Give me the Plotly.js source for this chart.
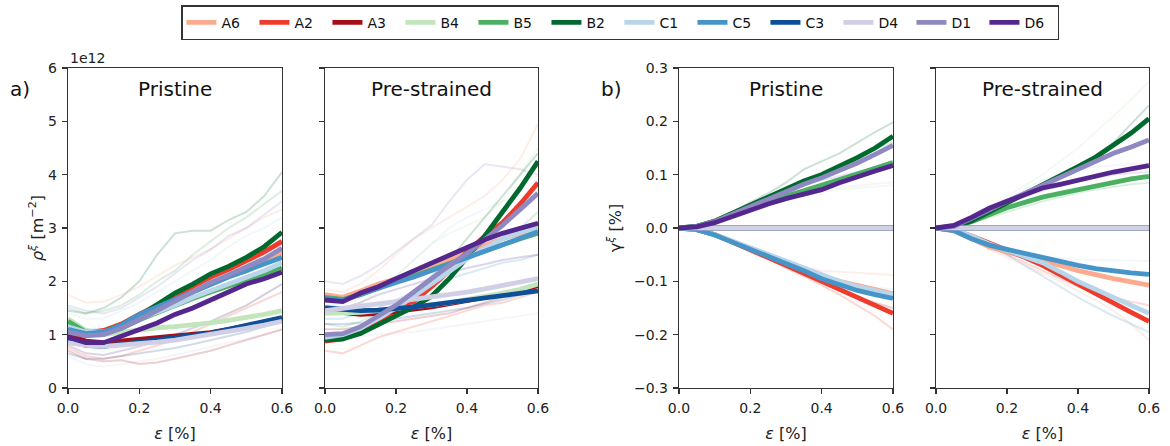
<!DOCTYPE html>
<html><head><meta charset="utf-8">
<script src="https://cdn.plot.ly/plotly-3.0.1.min.js"></script>
<style>html,body{margin:0;padding:0;background:#fff}#chart{width:1170px;height:446px}</style>
</head><body><div id="chart"></div>
<script>
// strain axis [%]
const strain = [0, 0.05, 0.1, 0.15, 0.2, 0.25, 0.3, 0.35, 0.4, 0.45, 0.5, 0.55, 0.6];
const names = ["A6","A2","A3","B4","B5","B2","C1","C5","C3","D4","D1","D6"];
const colors = ["#fcab8f","#ef3b2c","#a50f15","#c2e5bc","#4bb062","#00692d","#b8d5ea","#4695c9","#0d4f98","#d0cfe6","#8e89c1","#54278f"];

// (a) dislocation density rho^xi [1e12 m^-2], Pristine
const rhoPristine = {
 A6:[1.15,1.02,1.05,1.2,1.38,1.5,1.62,1.8,1.95,2.1,2.2,2.35,2.55],
 A2:[1.1,1.03,1.08,1.2,1.38,1.55,1.72,1.9,2.08,2.22,2.38,2.55,2.75],
 A3:[1.0,0.88,0.85,0.88,0.9,0.93,0.97,1.0,1.04,1.1,1.16,1.22,1.3],
 B4:[1.3,1.08,1.0,1.05,1.1,1.13,1.15,1.18,1.22,1.27,1.32,1.38,1.45],
 B5:[1.25,1.05,1.02,1.12,1.28,1.42,1.55,1.68,1.8,1.92,2.02,2.12,2.25],
 B2:[1.12,1.02,1.05,1.18,1.35,1.57,1.78,1.95,2.14,2.28,2.45,2.65,2.92],
 C1:[1.15,1.05,1.05,1.15,1.3,1.42,1.55,1.7,1.82,1.95,2.08,2.2,2.35],
 C5:[1.1,1.02,1.05,1.18,1.38,1.52,1.65,1.8,1.95,2.08,2.2,2.32,2.45],
 C3:[0.92,0.8,0.78,0.82,0.86,0.9,0.94,0.98,1.03,1.1,1.17,1.24,1.32],
 D4:[0.85,0.8,0.78,0.8,0.83,0.86,0.9,0.95,1.0,1.06,1.12,1.18,1.25],
 D1:[1.05,0.98,1.0,1.12,1.28,1.45,1.62,1.8,1.98,2.12,2.28,2.42,2.62],
 D6:[0.95,0.85,0.85,0.98,1.1,1.22,1.38,1.5,1.65,1.8,1.95,2.05,2.17]
};
// (a) Pre-strained
const rhoPrestrained = {
 A6:[1.75,1.7,1.82,1.95,2.05,2.15,2.28,2.4,2.55,2.68,2.8,2.9,3.0],
 A2:[0.88,0.92,1.05,1.2,1.4,1.62,1.9,2.2,2.55,2.85,3.1,3.45,3.85],
 A3:[1.45,1.42,1.38,1.4,1.45,1.48,1.52,1.58,1.62,1.68,1.75,1.82,1.92],
 B4:[1.4,1.4,1.42,1.45,1.48,1.52,1.56,1.6,1.65,1.72,1.78,1.85,1.95],
 B5:[1.7,1.66,1.75,1.88,2.0,2.1,2.22,2.33,2.45,2.58,2.7,2.8,2.9],
 B2:[0.9,0.92,1.02,1.18,1.35,1.52,1.72,2.05,2.45,2.85,3.3,3.75,4.25],
 C1:[0.95,1.0,1.12,1.3,1.5,1.72,1.95,2.2,2.42,2.62,2.8,2.92,3.0],
 C5:[1.68,1.65,1.76,1.88,1.98,2.08,2.2,2.32,2.45,2.58,2.7,2.82,2.93],
 C3:[1.5,1.48,1.45,1.46,1.48,1.52,1.56,1.6,1.64,1.68,1.72,1.77,1.82],
 D4:[1.45,1.5,1.55,1.58,1.62,1.66,1.7,1.75,1.8,1.86,1.92,1.98,2.05],
 D1:[1.0,1.02,1.15,1.35,1.55,1.8,2.05,2.3,2.52,2.78,3.05,3.35,3.65],
 D6:[1.65,1.62,1.78,1.9,2.05,2.2,2.35,2.5,2.65,2.78,2.9,3.0,3.09]
};
// (b) slip gamma^xi [%], Pristine
const gammaPristine = {
 A6:[0,-0.003,-0.012,-0.025,-0.04,-0.052,-0.065,-0.078,-0.09,-0.1,-0.108,-0.116,-0.123],
 A2:[0,-0.003,-0.012,-0.026,-0.04,-0.055,-0.07,-0.085,-0.1,-0.115,-0.13,-0.145,-0.16],
 A3:[0,0,0,0,0,0,0,0,0,0,0,0,0],
 B4:[0,0,0,0,0,0,0,0,0,0,0,0,0],
 B5:[0,0.003,0.012,0.024,0.037,0.048,0.06,0.07,0.08,0.09,0.1,0.112,0.123],
 B2:[0,0.003,0.013,0.028,0.045,0.06,0.075,0.088,0.1,0.115,0.132,0.15,0.172],
 C1:[0,-0.003,-0.012,-0.024,-0.038,-0.05,-0.062,-0.075,-0.088,-0.1,-0.11,-0.118,-0.125],
 C5:[0,-0.003,-0.013,-0.026,-0.04,-0.052,-0.065,-0.08,-0.095,-0.107,-0.117,-0.125,-0.132],
 C3:[0,0,0,0,0,0,0,0,0,0,0,0,0],
 D4:[0,0,0,0,0,0,0,0,0,0,0,0,0],
 D1:[0,0.003,0.012,0.026,0.042,0.056,0.07,0.082,0.094,0.107,0.122,0.138,0.155],
 D6:[0,0.002,0.01,0.022,0.035,0.045,0.055,0.064,0.072,0.085,0.097,0.107,0.117]
};
// (b) Pre-strained
const gammaPrestrained = {
 A6:[0,-0.005,-0.02,-0.035,-0.045,-0.053,-0.06,-0.07,-0.08,-0.088,-0.095,-0.101,-0.107],
 A2:[0,-0.004,-0.015,-0.028,-0.04,-0.055,-0.07,-0.088,-0.105,-0.122,-0.14,-0.158,-0.175],
 A3:[0,0,0,0,0,0,0,0,0,0,0,0,0],
 B4:[0,0,0,0,0,0,0,0,0,0,0,0,0],
 B5:[0,0.003,0.012,0.025,0.038,0.048,0.058,0.065,0.072,0.08,0.086,0.092,0.097],
 B2:[0,0.002,0.013,0.03,0.045,0.062,0.08,0.097,0.115,0.133,0.155,0.178,0.205],
 C1:[0,-0.003,-0.015,-0.03,-0.042,-0.053,-0.065,-0.082,-0.1,-0.115,-0.13,-0.145,-0.16],
 C5:[0,-0.005,-0.02,-0.032,-0.04,-0.048,-0.055,-0.063,-0.07,-0.076,-0.081,-0.084,-0.087],
 C3:[0,0,0,0,0,0,0,0,0,0,0,0,0],
 D4:[0,0,0,0,0,0,0,0,0,0,0,0,0],
 D1:[0,0.003,0.018,0.035,0.05,0.065,0.08,0.095,0.11,0.125,0.14,0.152,0.165],
 D6:[0,0.005,0.02,0.037,0.05,0.062,0.075,0.082,0.09,0.098,0.105,0.111,0.117]
};

// faint individual grain curves: [system, values]
const faintRhoPristine = [
 ["B2",[1.45,1.4,1.5,1.7,2.0,2.5,2.9,2.95,2.95,3.15,3.3,3.6,4.05]],
 ["A6",[1.75,1.6,1.62,1.75,1.9,2.1,2.3,2.45,2.6,2.8,3.0,3.2,3.35]],
 ["B5",[1.5,1.4,1.45,1.55,1.75,2.0,2.2,2.5,2.75,3.0,3.2,3.45,3.7]],
 ["D1",[1.55,1.45,1.4,1.5,1.7,1.9,2.15,2.4,2.6,2.85,3.0,3.25,3.5]],
 ["C1",[1.4,1.3,1.3,1.45,1.6,1.8,2.0,2.2,2.4,2.65,2.85,3.0,3.2]],
 ["A2",[0.75,0.6,0.55,0.6,0.7,0.8,0.9,1.05,1.2,1.35,1.5,1.65,1.8]],
 ["D4",[0.6,0.45,0.4,0.45,0.5,0.55,0.62,0.7,0.78,0.85,0.92,1.0,1.1]],
 ["A3",[0.7,0.55,0.5,0.52,0.45,0.48,0.55,0.62,0.7,0.8,0.9,1.0,1.1]],
 ["B4",[0.9,0.75,0.7,0.75,0.82,0.9,1.0,1.1,1.25,1.4,1.55,1.75,1.95]],
 ["C5",[1.2,1.1,1.1,1.2,1.35,1.5,1.65,1.8,1.95,2.1,2.3,2.5,2.7]],
 ["D6",[0.8,0.65,0.62,0.7,0.78,0.88,1.0,1.12,1.25,1.4,1.55,1.75,1.95]],
 ["C3",[0.65,0.55,0.55,0.6,0.65,0.7,0.75,0.82,0.9,0.98,1.05,1.15,1.25]]
];
const faintRhoPrestrained = [
 ["D1",[2.0,1.95,2.1,2.3,2.55,2.8,3.05,3.5,3.9,4.2,4.15,4.1,4.0]],
 ["A6",[1.85,1.8,1.95,2.2,2.5,2.8,3.0,3.2,3.4,3.6,3.9,4.3,4.95]],
 ["B4",[1.5,1.45,1.6,1.8,2.1,2.4,2.7,2.9,3.05,3.2,3.5,4.0,4.5]],
 ["C1",[1.6,1.55,1.7,1.9,2.1,2.4,2.7,3.0,3.2,3.35,3.5,3.6,3.7]],
 ["A2",[0.7,0.65,0.8,0.95,1.05,1.15,1.25,1.35,1.45,1.55,1.6,1.7,1.8]],
 ["D4",[0.95,0.95,0.98,1.0,1.02,1.05,1.1,1.15,1.2,1.25,1.3,1.35,1.4]],
 ["B5",[1.2,1.15,1.25,1.4,1.6,1.8,2.0,2.2,2.4,2.6,2.8,3.0,3.3]],
 ["C5",[1.3,1.3,1.4,1.5,1.65,1.8,1.95,2.05,2.15,2.25,2.35,2.4,2.5]],
 ["D6",[1.55,1.5,1.6,1.75,1.85,1.95,2.05,2.15,2.25,2.32,2.4,2.45,2.5]],
 ["A3",[1.1,1.1,1.15,1.2,1.25,1.3,1.35,1.4,1.5,1.6,1.7,1.8,1.9]],
 ["B2",[0.95,0.95,1.1,1.3,1.5,1.8,2.1,2.4,2.8,3.2,3.6,4.0,4.4]],
 ["C3",[1.2,1.2,1.22,1.25,1.3,1.35,1.4,1.45,1.5,1.58,1.65,1.75,1.85]]
];
const faintGammaPristine = [
 ["B2",[0,0.003,0.015,0.03,0.048,0.065,0.085,0.11,0.125,0.14,0.16,0.18,0.198]],
 ["B5",[0,0.003,0.013,0.028,0.045,0.06,0.075,0.09,0.105,0.12,0.135,0.15,0.16]],
 ["D4",[0,0.003,0.012,0.025,0.037,0.048,0.057,0.065,0.072,0.076,0.08,0.083,0.086]],
 ["B4",[0,0.003,0.012,0.024,0.036,0.046,0.055,0.062,0.068,0.072,0.075,0.078,0.08]],
 ["D1",[0,0.003,0.014,0.03,0.046,0.06,0.072,0.082,0.09,0.098,0.105,0.11,0.115]],
 ["A6",[0,-0.003,-0.012,-0.025,-0.038,-0.05,-0.062,-0.072,-0.08,-0.082,-0.084,-0.086,-0.088]],
 ["A2",[0,-0.003,-0.013,-0.027,-0.042,-0.058,-0.075,-0.09,-0.107,-0.125,-0.145,-0.165,-0.19]],
 ["C1",[0,-0.003,-0.012,-0.025,-0.038,-0.05,-0.063,-0.077,-0.09,-0.1,-0.108,-0.112,-0.115]],
 ["A3",[0,-0.003,-0.013,-0.026,-0.04,-0.055,-0.07,-0.085,-0.1,-0.115,-0.13,-0.14,-0.15]]
];
const faintGammaPrestrained = [
 ["B4",[0,0.004,0.02,0.04,0.06,0.08,0.1,0.125,0.15,0.18,0.21,0.24,0.275]],
 ["B2",[0,0.003,0.015,0.03,0.045,0.06,0.075,0.092,0.11,0.135,0.16,0.195,0.23]],
 ["D4",[0,0.004,0.02,0.038,0.055,0.072,0.09,0.102,0.11,0.115,0.118,0.12,0.122]],
 ["B5",[0,0.002,0.01,0.02,0.03,0.04,0.05,0.058,0.066,0.072,0.077,0.082,0.085]],
 ["D1",[0,0.003,0.015,0.03,0.045,0.058,0.07,0.08,0.088,0.094,0.1,0.103,0.105]],
 ["A6",[0,-0.004,-0.02,-0.04,-0.055,-0.07,-0.085,-0.1,-0.118,-0.135,-0.155,-0.18,-0.21]],
 ["C1",[0,-0.003,-0.015,-0.03,-0.042,-0.05,-0.054,-0.057,-0.059,-0.06,-0.061,-0.062,-0.062]],
 ["A2",[0,-0.004,-0.018,-0.035,-0.05,-0.065,-0.08,-0.095,-0.11,-0.12,-0.13,-0.138,-0.145]],
 ["C5",[0,-0.003,-0.015,-0.032,-0.05,-0.07,-0.09,-0.11,-0.13,-0.148,-0.165,-0.18,-0.195]]
];

const colorOf = {}; names.forEach((n,i)=>colorOf[n]=colors[i]);
const traces = [];
const panels = [
 {x:"x", y:"y", main:rhoPristine, faint:faintRhoPristine},
 {x:"x2", y:"y2", main:rhoPrestrained, faint:faintRhoPrestrained},
 {x:"x3", y:"y3", main:gammaPristine, faint:faintGammaPristine},
 {x:"x4", y:"y4", main:gammaPrestrained, faint:faintGammaPrestrained}
];
panels.forEach((p,pi)=>{
  p.faint.forEach(([n,v])=>{
    traces.push({type:"scatter", mode:"lines", x:strain, y:v, xaxis:p.x, yaxis:p.y,
      line:{color:colorOf[n], width:2}, opacity:0.2, showlegend:false, hoverinfo:"skip"});
  });
  names.forEach(n=>{
    traces.push({type:"scatter", mode:"lines", x:strain, y:p.main[n], xaxis:p.x, yaxis:p.y,
      name:n, legendgroup:n, showlegend:pi===0,
      line:{color:colorOf[n], width:4.8}});
  });
});

const tickFont = {family:"DejaVu Sans", size:14, color:"#222"};
const axisCommon = {showgrid:false, zeroline:false, showline:true, mirror:true,
  linecolor:"#333", linewidth:1.2, ticks:"outside", ticklen:5, tickwidth:1.2, tickcolor:"#333",
  tickfont:tickFont, automargin:false, ticklabelstandoff:2};
const xTitle = {text:"<i>ε</i> [%]", font:{family:"DejaVu Sans", size:16, color:"#222"}, standoff:12};
function xax(dom){return Object.assign({}, axisCommon, {domain:dom, range:[0,0.6],
  tickvals:[0,0.2,0.4,0.6], tickformat:".1f", title:xTitle});}
const yDom = [0.1300, 0.8475];
const titleFont = {family:"DejaVu Sans", size:20, color:"#111"};
const layout = {
  width:1170, height:446, margin:{l:0,r:0,t:0,b:0},
  paper_bgcolor:"#fff", plot_bgcolor:"#fff",
  font:{family:"DejaVu Sans", color:"#222"},
  xaxis: xax([0.0581,0.2410]),
  xaxis2: xax([0.2778,0.4598]),
  xaxis3: xax([0.5803,0.7632]),
  xaxis4: xax([0.8000,0.9820]),
  yaxis: Object.assign({}, axisCommon, {domain:yDom, range:[0,6], tickvals:[0,1,2,3,4,5,6], anchor:"x",
     title:{text:"<i>ρ</i><sup><i>ξ</i></sup> [m<sup>−2</sup>]", font:{family:"DejaVu Sans", size:16, color:"#222"}, standoff:0}}),
  yaxis2: Object.assign({}, axisCommon, {domain:yDom, range:[0,6], tickvals:[0,1,2,3,4,5,6], anchor:"x2", showticklabels:false}),
  yaxis3: Object.assign({}, axisCommon, {domain:yDom, range:[-0.3,0.3], tickvals:[-0.3,-0.2,-0.1,0,0.1,0.2,0.3], tickformat:".1f", anchor:"x3",
     title:{text:"γ<sup><i>ξ</i></sup> [%]", font:{family:"DejaVu Sans", size:16, color:"#222"}, standoff:8}}),
  yaxis4: Object.assign({}, axisCommon, {domain:yDom, range:[-0.3,0.3], tickvals:[-0.3,-0.2,-0.1,0,0.1,0.2,0.3], anchor:"x4", showticklabels:false}),
  legend:{orientation:"h", x:0.5303, xanchor:"center", y:0.988, yanchor:"top",
    bordercolor:"#333", borderwidth:1.5, bgcolor:"#fff",
    font:{family:"DejaVu Sans", size:14, color:"#111"}, entrywidth:28, entrywidthmode:"pixels", itemwidth:30},
  annotations:[
    {xref:"paper", yref:"paper", x:0.1496, xanchor:"center", y:0.85, yshift:-8, yanchor:"top", showarrow:false, text:"Pristine", font:titleFont},
    {xref:"paper", yref:"paper", x:0.3688, xanchor:"center", y:0.85, yshift:-8, yanchor:"top", showarrow:false, text:"Pre-strained", font:titleFont},
    {xref:"paper", yref:"paper", x:0.6718, xanchor:"center", y:0.85, yshift:-8, yanchor:"top", showarrow:false, text:"Pristine", font:titleFont},
    {xref:"paper", yref:"paper", x:0.8910, xanchor:"center", y:0.85, yshift:-8, yanchor:"top", showarrow:false, text:"Pre-strained", font:titleFont},
    {xref:"paper", yref:"paper", x:0.0068, xanchor:"left", y:0.80, yanchor:"middle", showarrow:false, text:"a)", font:titleFont},
    {xref:"paper", yref:"paper", x:0.5120, xanchor:"left", y:0.80, yanchor:"middle", showarrow:false, text:"b)", font:titleFont},
    {xref:"paper", yref:"paper", x:0.0581, xanchor:"left", y:0.8475, yanchor:"bottom", showarrow:false, text:"1e12", font:{family:"DejaVu Sans", size:14, color:"#222"}}
  ]
};
Plotly.newPlot("chart", traces, layout, {displayModeBar:false, staticPlot:true});
</script></body></html>
